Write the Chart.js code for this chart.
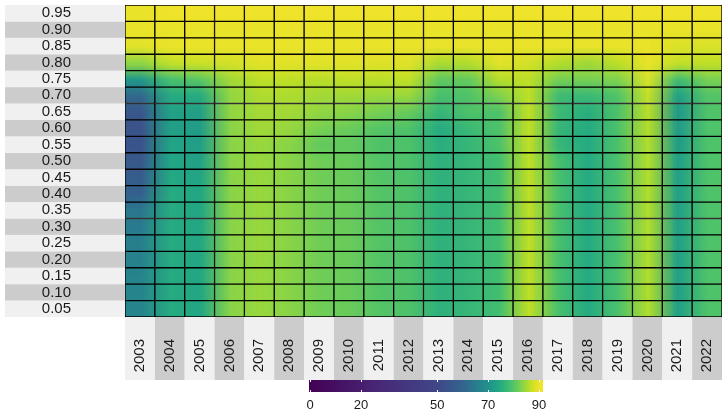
<!DOCTYPE html>
<html>
<head>
<meta charset="utf-8">
<script src="https://cdn.jsdelivr.net/npm/chart.js@4.4.1/dist/chart.umd.min.js"></script>
<style>
  html, body { margin: 0; padding: 0; background: #ffffff; }
  #wrap { width: 723px; height: 416px; }
</style>
</head>
<body>
<div id="wrap"><canvas id="heat" width="723" height="416"></canvas></div>
<script>
// Years along the bottom, quantile levels up the side.
const years = ['2003', '2004', '2005', '2006', '2007', '2008', '2009', '2010', '2011', '2012',
               '2013', '2014', '2015', '2016', '2017', '2018', '2019', '2020', '2021', '2022'];
const quantiles = [0.05, 0.10, 0.15, 0.20, 0.25, 0.30, 0.35, 0.40, 0.45, 0.50,
                   0.55, 0.60, 0.65, 0.70, 0.75, 0.80, 0.85, 0.90, 0.95];

// Score for each year, listed from quantile 0.05 up to 0.95.
const scores = [
  /* 2003 */ [67, 67, 67, 66.5, 66, 65, 64.5, 59, 57.5, 56, 54.5, 54, 55.5, 61, 71.5, 84, 89, 89.5, 89.5],
  /* 2004 */ [75, 75, 75, 75, 75, 75, 75, 75, 74.5, 74, 73.5, 73, 73, 75, 79, 87, 89.5, 89.5, 90],
  /* 2005 */ [74, 74, 74, 74, 74, 74, 74, 74, 73.5, 73, 72.5, 72, 72.5, 75, 80.5, 87.5, 89.5, 89.5, 90],
  /* 2006 */ [83.5, 83.5, 83.5, 83.5, 83.5, 83.5, 83.5, 83.5, 83.5, 83.5, 83.5, 83.5, 84, 84, 85, 88, 89.5, 89.5, 90],
  /* 2007 */ [84.5, 84.5, 84.5, 84.5, 84.5, 84.5, 84.5, 84.5, 84.5, 84.5, 84.5, 85, 85.2, 85.7, 86.5, 89, 89.5, 89.5, 90],
  /* 2008 */ [83.5, 83.5, 83.5, 83.5, 83.5, 83.5, 83.5, 83.5, 83.5, 83.5, 83.5, 84.3, 85, 85.7, 86.5, 89, 89.5, 89.5, 90],
  /* 2009 */ [82, 82, 82, 82, 82, 82, 82, 82, 82, 82, 81, 82.5, 84, 85, 86.2, 89, 89.5, 89.5, 90],
  /* 2010 */ [81.5, 81.5, 81.5, 81.5, 81.5, 81.5, 81.5, 81.5, 81.5, 81.5, 81, 81.5, 83.5, 85, 86.7, 89, 89.5, 89.5, 90],
  /* 2011 */ [80, 80, 80, 80, 80, 80, 80, 80, 80, 80, 79.5, 80, 82.3, 84.5, 86.3, 88.8, 89.5, 89.5, 90],
  /* 2012 */ [79.5, 79.5, 79.5, 79.5, 79.5, 79.5, 79.5, 79.5, 79.5, 79.5, 79.5, 79.5, 81.3, 84.6, 86.8, 88.8, 89.5, 89.5, 90],
  /* 2013 */ [76, 76, 76, 76, 76, 76, 76, 76, 76, 76, 75.5, 74.8, 77, 79, 80.8, 85.5, 89.5, 89.5, 90],
  /* 2014 */ [77, 77, 77, 77, 77, 77, 77, 77, 77, 77, 77, 77.5, 79.5, 79.7, 81.2, 86, 89.5, 89.5, 90],
  /* 2015 */ [78.5, 78.5, 78.5, 78.5, 78.5, 78.5, 78.5, 78.5, 78.5, 78.5, 79.5, 79.5, 79.5, 83, 86, 89, 89.5, 89.5, 90],
  /* 2016 */ [86.5, 86.5, 86.5, 86.5, 86.5, 86.5, 86.5, 86.5, 86.5, 86.5, 86.5, 86.5, 86.5, 86.5, 86.5, 88, 89.5, 89.5, 90],
  /* 2017 */ [79, 79, 79, 79, 79, 79, 79, 79, 79, 79, 77, 77, 77.8, 78, 82.3, 86, 89.5, 89.5, 90],
  /* 2018 */ [74.7, 74.7, 74.7, 74.7, 74.7, 74.7, 74.7, 74.7, 74.7, 74.7, 74.7, 74.7, 75.3, 77.5, 82.5, 85, 89.5, 89.5, 90],
  /* 2019 */ [79.3, 79.3, 79.3, 79.3, 79.3, 79.3, 79.3, 79.3, 79.3, 79.3, 79.5, 79.5, 79.5, 79.8, 83, 86.5, 89.5, 89.5, 90],
  /* 2020 */ [85.8, 85.8, 85.8, 85.8, 85.8, 85.8, 85.8, 85.8, 85.8, 85.8, 85.8, 86, 86.2, 87, 88.3, 89.5, 89.5, 89.5, 90],
  /* 2021 */ [72.8, 72.8, 72.8, 72.8, 72.8, 72.8, 72.8, 72.8, 72.8, 72.8, 72, 72, 71.5, 73, 78.3, 87, 88.5, 89.5, 90],
  /* 2022 */ [79.6, 79.6, 79.6, 79.6, 79.6, 79.6, 79.6, 79.6, 79.6, 79.6, 79.6, 79.6, 79.6, 80, 82.6, 86.7, 88.3, 89.5, 90]
];

// Colour bar labels.
const colorbarTicks = [0, 20, 50, 70, 90];

// ---- colour scale -------------------------------------------------------
const VIRIDIS = ['#440154', '#482475', '#414487', '#355f8d', '#2a788e', '#21918c',
                 '#22a884', '#44bf70', '#7ad151', '#bddf26', '#f0e42a'];
// value -> position along the viridis ramp
const RAMP_STOPS = [[0, 0], [20, 0.08], [50, 0.21], [60, 0.32], [70, 0.5], [80, 0.73], [85, 0.86], [90, 1]];
const SCALE_MIN = 0, SCALE_MAX = 90;

const VIRIDIS_RGB = VIRIDIS.map(h => [1, 3, 5].map(i => parseInt(h.substr(i, 2), 16)));

function rampPos(v) {
  if (v <= RAMP_STOPS[0][0]) return 0;
  for (let i = 1; i < RAMP_STOPS.length; i++) {
    const [v1, t1] = RAMP_STOPS[i];
    const [v0, t0] = RAMP_STOPS[i - 1];
    if (v <= v1) return t0 + (t1 - t0) * (v - v0) / (v1 - v0);
  }
  return 1;
}
function colorFor(v) {
  const t = Math.min(1, Math.max(0, rampPos(v))) * (VIRIDIS_RGB.length - 1);
  const i = Math.min(VIRIDIS_RGB.length - 2, Math.floor(t));
  const f = t - i;
  const a = VIRIDIS_RGB[i], b = VIRIDIS_RGB[i + 1];
  return a.map((c, k) => Math.round(c + (b[k] - c) * f));
}

// ---- smoothed cell field used as the bar fill -----------------------------
const HALF_ROW = 0.025;
let fieldCache = { key: '', pattern: null };

function cellField(chart) {
  const xs = chart.scales.x, ys = chart.scales.y;
  if (!xs || !ys || !chart.chartArea) return 'rgba(0,0,0,0)';
  const step = xs.getPixelForValue(1) - xs.getPixelForValue(0);
  const left = xs.getPixelForValue(0) - step / 2;
  const right = xs.getPixelForValue(years.length - 1) + step / 2;
  const top = ys.getPixelForValue(quantiles[quantiles.length - 1] + HALF_ROW);
  const bottom = ys.getPixelForValue(quantiles[0] - HALF_ROW);
  const key = [left, right, top, bottom, chart.width, chart.height].join('|');
  if (fieldCache.key === key) return fieldCache.pattern;

  // one pixel per cell, top row = highest quantile
  const src = document.createElement('canvas');
  src.width = years.length;
  src.height = quantiles.length;
  const sctx = src.getContext('2d');
  const img = sctx.createImageData(src.width, src.height);
  for (let c = 0; c < years.length; c++) {
    for (let r = 0; r < quantiles.length; r++) {
      const row = quantiles.length - 1 - r;
      const [R, G, B] = colorFor(scores[c][r]);
      const o = (row * src.width + c) * 4;
      img.data[o] = R; img.data[o + 1] = G; img.data[o + 2] = B; img.data[o + 3] = 255;
    }
  }
  sctx.putImageData(img, 0, 0);

  // stretch with bilinear smoothing over the plot area
  const full = document.createElement('canvas');
  full.width = chart.width;
  full.height = chart.height;
  const fctx = full.getContext('2d');
  fctx.imageSmoothingEnabled = true;
  fctx.imageSmoothingQuality = 'low';
  fctx.drawImage(src, left, top, right - left, bottom - top);

  const pattern = chart.ctx.createPattern(full, 'no-repeat');
  fieldCache = { key, pattern };
  return pattern;
}

// ---- label bands and colour bar ------------------------------------------
const BAND_LIGHT = '#f0f0f0', BAND_DARK = '#cccccc';
const TEXT_COLOR = '#1a1a1a';
const FONT = '"Liberation Sans", Arial, Helvetica, sans-serif';

const bandsPlugin = {
  id: 'labelBands',
  beforeDraw(chart) {
    const { ctx, chartArea, scales: { x, y } } = chart;
    ctx.save();
    quantiles.forEach((q, i) => {
      const t = y.getPixelForValue(q + HALF_ROW);
      const b = y.getPixelForValue(q - HALF_ROW);
      ctx.fillStyle = i % 2 === 0 ? BAND_LIGHT : BAND_DARK;
      ctx.fillRect(5, t, chartArea.left - 5, b - t);
    });
    const step = x.getPixelForValue(1) - x.getPixelForValue(0);
    years.forEach((yr, j) => {
      const cx = x.getPixelForValue(j);
      ctx.fillStyle = j % 2 === 0 ? BAND_LIGHT : BAND_DARK;
      ctx.fillRect(cx - step / 2, chartArea.bottom, step, x.bottom - chartArea.bottom);
    });
    ctx.restore();
  }
};

const colorbarPlugin = {
  id: 'colorbar',
  afterDraw(chart) {
    const { ctx } = chart;
    const x0 = 310, x1 = 539;          // pixel positions of SCALE_MIN and SCALE_MAX
    const barL = 309, barR = 543, barT = 380, barB = 392;
    const px = v => x0 + (x1 - x0) * (v - SCALE_MIN) / (SCALE_MAX - SCALE_MIN);
    const vx = p => SCALE_MIN + (p - x0) * (SCALE_MAX - SCALE_MIN) / (x1 - x0);
    ctx.save();
    const grad = ctx.createLinearGradient(barL, 0, barR, 0);
    const n = 60;
    for (let i = 0; i <= n; i++) {
      const p = barL + (barR - barL) * i / n;
      const v = Math.min(SCALE_MAX, Math.max(SCALE_MIN, vx(p)));
      const [R, G, B] = colorFor(v);
      grad.addColorStop(i / n, `rgb(${R},${G},${B})`);
    }
    ctx.fillStyle = grad;
    ctx.fillRect(barL, barT, barR - barL, barB - barT);

    ctx.strokeStyle = '#ffffff';
    ctx.lineWidth = 1;
    colorbarTicks.forEach(v => {
      const p = Math.round(px(v)) + 0.5;
      if (p <= barL + 1 || p >= barR - 1) return;
      ctx.beginPath();
      ctx.moveTo(p, barT); ctx.lineTo(p, barT + 2);
      ctx.moveTo(p, barB - 2); ctx.lineTo(p, barB);
      ctx.stroke();
    });

    ctx.fillStyle = TEXT_COLOR;
    ctx.font = `13px ${FONT}`;
    ctx.textAlign = 'center';
    ctx.textBaseline = 'middle';
    colorbarTicks.forEach(v => ctx.fillText(String(v), px(v), 405));
    ctx.restore();
  }
};

// fixed axis size, no extra label overhang around the plot area
function fixAxis(scale, size) {
  if (scale.isHorizontal()) scale.height = size; else scale.width = size;
  scale.paddingTop = 0;
  scale.paddingBottom = 0;
  scale.paddingLeft = 0;
  scale.paddingRight = 0;
}

// ---- chart ---------------------------------------------------------------
const datasets = quantiles.map((q, r) => ({
  label: q.toFixed(2),
  data: years.map(() => [q - HALF_ROW, q + HALF_ROW]),
  backgroundColor: ctx => cellField(ctx.chart),
  hoverBackgroundColor: ctx => cellField(ctx.chart),
  borderColor: '#000000',
  hoverBorderColor: '#000000',
  borderWidth: 1,
  borderSkipped: false,
  grouped: false,
  barPercentage: 1,
  categoryPercentage: 1
}));

new Chart(document.getElementById('heat'), {
  type: 'bar',
  data: { labels: years, datasets },
  options: {
    responsive: false,
    devicePixelRatio: 1,
    animation: false,
    events: [],
    layout: { padding: { top: 5, right: 1, bottom: 36, left: 0 } },
    plugins: { legend: { display: false }, tooltip: { enabled: false } },
    scales: {
      x: {
        type: 'category',
        offset: true,
        grid: { display: false },
        border: { display: false },
        ticks: {
          autoSkip: false,
          minRotation: 90,
          maxRotation: 90,
          padding: 14,
          color: TEXT_COLOR,
          font: { family: FONT, size: 15 }
        },
        afterFit(scale) { fixAxis(scale, 63); }
      },
      y: {
        type: 'linear',
        min: quantiles[0] - HALF_ROW,
        max: quantiles[quantiles.length - 1] + HALF_ROW,
        grid: { display: false },
        border: { display: false },
        afterBuildTicks(scale) { scale.ticks = quantiles.map(v => ({ value: v })); },
        ticks: {
          autoSkip: false,
          crossAlign: 'center',
          padding: 46,
          color: TEXT_COLOR,
          font: { family: FONT, size: 15 },
          callback: v => Number(v).toFixed(2)
        },
        afterFit(scale) { fixAxis(scale, 125); }
      }
    }
  },
  plugins: [bandsPlugin, colorbarPlugin]
});
</script>
</body>
</html>
